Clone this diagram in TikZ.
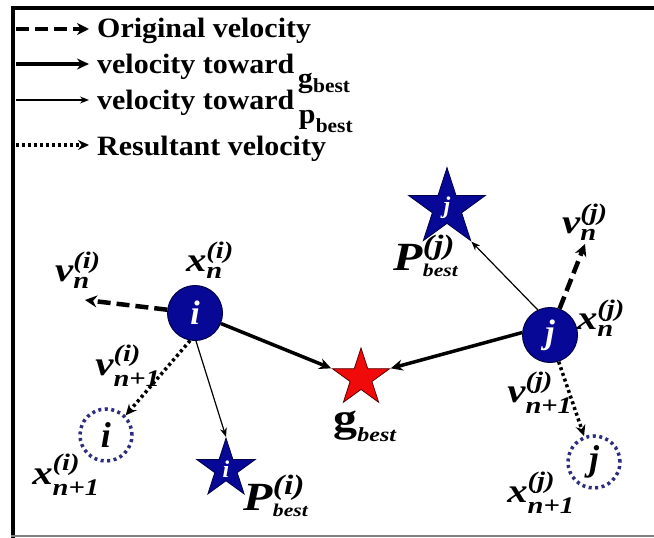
\documentclass[tikz,border=0pt]{standalone}
\usepackage{amsmath}
\usepackage{graphicx}
\usepackage{fontspec}
\setmainfont{Liberation Serif}
\newfontfamily\legfont{Liberation Serif}[FakeStretch=1.07]
\usepackage{tikz}
\usetikzlibrary{positioning,arrows.meta,shapes.geometric}
\definecolor{partblue}{RGB}{8,8,150}
\definecolor{partdark}{RGB}{0,0,70}
\definecolor{dotblue}{RGB}{45,45,125}
\definecolor{gbestred}{RGB}{240,10,10}
\definecolor{gbestdark}{RGB}{90,0,0}

% x_n^(i) style labels
\newcommand{\plab}[3]{\scalebox{1.2}[1]{$\text{\bfseries\itshape #1}^{\text{\bfseries\itshape #3}}_{\text{\bfseries\itshape #2}}$}}
\newcommand{\pbestlab}[1]{\scalebox{1.2}[1]{$\text{\bfseries\itshape P}^{\text{\bfseries\itshape #1}}_{\text{\fontsize{18}{18}\selectfont\bfseries\itshape best}}$}}

\tikzset{
    legtext/.style={anchor=base west, inner sep=0pt, font=\legfont\fontsize{28}{28}\selectfont\bfseries},
    legsub/.style={anchor=base west, inner sep=0pt, font=\legfont\fontsize{20}{20}\selectfont\bfseries},
    origvel/.style={line width=4.5pt, dash pattern=on 13pt off 6pt, -{Stealth[length=12pt,width=12pt]}},
    gvel/.style={line width=3.5pt, -{Stealth[length=12pt,width=11pt]}},
    pvel/.style={line width=1.2pt, -{Stealth[length=9pt,width=7pt]}},
    resvel/.style={line width=3.5pt, dash pattern=on 3pt off 3pt, -{Stealth[length=11pt,width=10pt]}},
    particle/.style={circle, fill=partblue, draw=partdark, line width=1pt, minimum size=55pt,
        inner sep=0pt, text=white, font=\fontsize{34}{34}\selectfont\bfseries\itshape},
    nextpart/.style={circle, draw=dotblue, line width=3.5pt, dash pattern=on 3pt off 3.5pt,
        minimum size=52pt, inner sep=0pt, font=\fontsize{36}{36}\selectfont\bfseries\itshape},
    beststar/.style={star, star points=5, star point ratio=2.618, minimum size=60pt, inner sep=0pt,
        fill=partblue, draw=partdark, line width=0.8pt, text=white,
        font=\fontsize{24}{24}\selectfont\bfseries\itshape},
    gstar/.style={beststar, fill=gbestred, draw=gbestdark},
    varlab/.style={inner sep=0pt, font=\fontsize{34}{34}\selectfont},
    bestlab/.style={inner sep=0pt, font=\fontsize{40}{40}\selectfont}
}

\begin{document}
\begin{tikzpicture}[x=1pt,y=-1pt]
    \useasboundingbox (0,0) rectangle (654,538);
    \fill[white] (0,0) rectangle (654,538);

    % frame
    \draw[line width=4pt] (13,538) -- (13,8) -- (654,8);
    \draw[gray, line width=1.2pt] (11,536) -- (654,536);

    % legend
    \coordinate (l1a) at (16,29);  \coordinate (l1b) at (89,29);
    \coordinate (l2a) at (16,64);  \coordinate (l2b) at (89,64);
    \coordinate (l3a) at (16,100); \coordinate (l3b) at (89,100);
    \coordinate (l4a) at (16,145); \coordinate (l4b) at (89,145);
    \draw[origvel] (l1a) -- (l1b);
    \draw[gvel] (l2a) -- (l2b);
    \draw[pvel] (l3a) -- (l3b);
    \draw[resvel] (l4a) -- (l4b);
    \node[legtext] (leg1) at (97,37) {Original velocity};
    \node[legtext] (leg2) at (97,73) {velocity toward};
    \node[legtext] (leg2g) at ([xshift=3pt,yshift=-14pt]leg2.base east) {g};
    \node[legsub] (leg2s) at ([yshift=-5pt]leg2g.base east) {best};
    \node[legtext] (leg3) at (97,109) {velocity toward};
    \node[legtext] (leg3p) at ([xshift=4pt,yshift=-14pt]leg3.base east) {p};
    \node[legsub] (leg3s) at ([yshift=-9pt]leg3p.base east) {best};
    \node[legtext] (leg4) at (97,155) {Resultant velocity};

    % particles and best positions
    \node[particle] (pi) at (195,313) {i};
    \node[particle] (pj) at (550,335) {j};
    \node[nextpart] (ni) at (106,435) {i};
    \node[nextpart] (nj) at (594,462) {j};
    \node[beststar] (si) at (226,469) {i};
    \node[beststar] (sj) at (447,208) {j};
    \node[gstar] (g) at (361,378) {};
    \coordinate (vi) at (85,300);
    \coordinate (vj) at (585,244);

    % velocities
    \draw[origvel] (pi) -- (vi);
    \draw[origvel] (pj.70) -- (vj);
    \draw[gvel] (pi) -- (g.outer point 2);
    \draw[gvel] (pj.175) -- (g.outer point 5);
    \draw[pvel] (pi.-88) -- (si.outer point 1);
    \draw[pvel] (pj.116) -- (sj.outer point 4);
    \draw[resvel] (pi.-100) -- (ni.45);
    \draw[resvel] (pj.-72) -- (nj.111);

    % labels
    \node[varlab] (xni) at (210,260) {\plab{x}{n}{(i)}};
    \node[varlab] (vni) at (78,270) {\plab{v}{n}{(i)}};
    \node[varlab] (vn1i) at (128,366) {\plab{v}{n+1}{(i)}};
    \node[varlab] (xn1i) at (66,475) {\plab{x}{n+1}{(i)}};
    \node[bestlab] (pbi) at (276,496) {\pbestlab{(i)}};
    \node[varlab] (gb) at (365,426) {\scalebox{1.2}[1]{$\text{\fontsize{40}{40}\selectfont\bfseries g}_{\text{\fontsize{20}{20}\selectfont\bfseries\itshape best}}$}};
    \node[bestlab] (pbj) at (426,256) {\pbestlab{(j)}};
    \node[varlab] (vnj) at (585,222) {\plab{v}{n}{(j)}};
    \node[varlab] (xnj) at (601,318) {\plab{x}{n}{(j)}};
    \node[varlab] (vn1j) at (540,393) {\plab{v}{n+1}{(j)}};
    \node[varlab] (xn1j) at (541,493) {\plab{x}{n+1}{(j)}};
\end{tikzpicture}
\end{document}
